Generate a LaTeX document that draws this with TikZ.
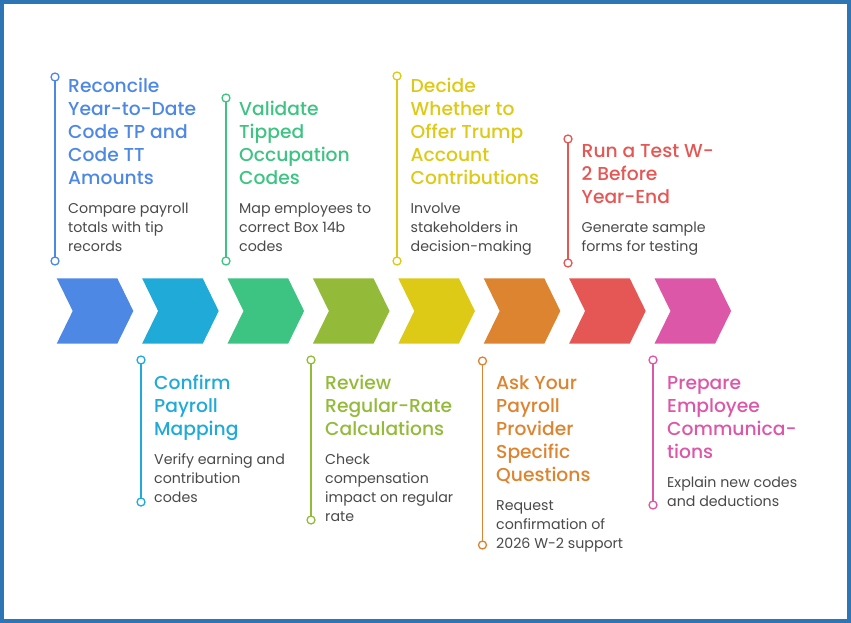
\documentclass[tikz,border=0pt]{standalone}
\usepackage{fontspec}
\setmainfont{Poppins}
\newfontfamily\titlefam{Poppins}[UprightFont=* Medium]
\definecolor{cblue}{HTML}{4E88E5}
\definecolor{ccyan}{HTML}{20AAD8}
\definecolor{cgreen}{HTML}{3DC483}
\definecolor{colive}{HTML}{93BB39}
\definecolor{cyellow}{HTML}{DDCA16}
\definecolor{corange}{HTML}{DD8431}
\definecolor{cred}{HTML}{E55754}
\definecolor{cpink}{HTML}{DC57A8}
\definecolor{cframe}{HTML}{2E75B6}
\definecolor{cbody}{HTML}{4A4A4A}
\tikzset{
  ttl/.style={anchor=base west, inner sep=0pt, align=left, font=\titlefam\fontsize{18.7}{23}\selectfont},
  bodytxt/.style={anchor=base west, inner sep=0pt, align=left, text=cbody, font=\fontsize{14.2}{19}\selectfont},
  stem/.style={line width=1.8pt},
  dot/.style={circle, draw=#1, line width=1.3pt, fill=white, minimum size=8pt, inner sep=0pt},
}
\newcommand{\chev}[3]{% x, colour, name
  \fill[#2] (#1,278.3) -- ++(60.6,0) -- ++(16,32.7) -- ++(-16,32.7) -- ++(-60.6,0) -- ++(16,-32.7) -- cycle;
  \coordinate (#3) at ({#1+38},311);
}
\begin{document}
\begin{tikzpicture}[x=1pt,y=-1pt]
\useasboundingbox (0,0) rectangle (851,623);
\fill[white] (0,0) rectangle (851,623);
\draw[cframe, line width=4pt] (2,2) rectangle (849,621);

% chevrons
\chev{56.7}{cblue}{ch1}
\chev{142.1}{ccyan}{ch2}
\chev{227.5}{cgreen}{ch3}
\chev{312.9}{colive}{ch4}
\chev{398.3}{cyellow}{ch5}
\chev{483.7}{corange}{ch6}
\chev{569.1}{cred}{ch7}
\chev{654.5}{cpink}{ch8}

% (text nodes are anchored at the baseline of their last line)
% ---------- item 1 (top, blue)
\coordinate (t1) at (55,77); \coordinate (b1) at (55,261);
\draw[stem,cblue] (t1) -- (b1);
\node[dot=cblue] (t1d) at (t1) {}; \node[dot=cblue] (b1d) at (b1) {};
\node[ttl,text=cblue] (h1) at (68,184) {Reconcile\\Year-to-Date\\Code TP and\\Code TT\\Amounts};
\node[bodytxt] (d1) at (68,251) {Compare payroll\\totals with tip\\records};

% ---------- item 3 (top, green)
\coordinate (t3) at (226,98); \coordinate (b3) at (226,261);
\draw[stem,cgreen] (t3) -- (b3);
\node[dot=cgreen] (t3d) at (t3) {}; \node[dot=cgreen] (b3d) at (b3) {};
\node[ttl,text=cgreen] (h3) at (239,184) {Validate\\Tipped\\Occupation\\Codes};
\node[bodytxt] (d3) at (239,251) {Map employees to\\correct Box 14b\\codes};

% ---------- item 5 (top, yellow)
\coordinate (t5) at (397,76); \coordinate (b5) at (397,261);
\draw[stem,cyellow] (t5) -- (b5);
\node[dot=cyellow] (t5d) at (t5) {}; \node[dot=cyellow] (b5d) at (b5) {};
\node[ttl,text=cyellow] (h5) at (410.5,184) {Decide\\Whether to\\Offer Trump\\Account\\Contributions};
\node[bodytxt] (d5) at (410.5,251) {Involve\\stakeholders in\\decision-making};

% ---------- item 7 (top, red)
\coordinate (t7) at (568,139); \coordinate (b7) at (568,263);
\draw[stem,cred] (t7) -- (b7);
\node[dot=cred] (t7d) at (t7) {}; \node[dot=cred] (b7d) at (b7) {};
\node[ttl,text=cred] (h7) at (581.5,203) {Run a Test W-\\2 Before\\Year-End};
\node[bodytxt] (d7) at (581.5,251) {Generate sample\\forms for testing};

% ---------- item 2 (bottom, cyan)
\coordinate (t2) at (141,360); \coordinate (b2) at (141,502);
\draw[stem,ccyan] (t2) -- (b2);
\node[dot=ccyan] (t2d) at (t2) {}; \node[dot=ccyan] (b2d) at (b2) {};
\node[ttl,text=ccyan] (h2) at (154,435) {Confirm\\Payroll\\Mapping};
\node[bodytxt] (d2) at (154,502) {Verify earning and\\contribution\\codes};

% ---------- item 4 (bottom, olive)
\coordinate (t4) at (311,360); \coordinate (b4) at (311,520);
\draw[stem,colive] (t4) -- (b4);
\node[dot=colive] (t4d) at (t4) {}; \node[dot=colive] (b4d) at (b4) {};
\node[ttl,text=colive] (h4) at (325,435) {Review\\Regular-Rate\\Calculations};
\node[bodytxt] (d4) at (325,521) {Check\\compensation\\impact on regular\\rate};

% ---------- item 6 (bottom, orange)
\coordinate (t6) at (482.5,361); \coordinate (b6) at (482.5,545);
\draw[stem,corange] (t6) -- (b6);
\node[dot=corange] (t6d) at (t6) {}; \node[dot=corange] (b6d) at (b6) {};
\node[ttl,text=corange] (h6) at (496,481) {Ask Your\\Payroll\\Provider\\Specific\\Questions};
\node[bodytxt] (d6) at (496,548) {Request\\confirmation of\\2026 W-2 support};

% ---------- item 8 (bottom, pink)
\coordinate (t8) at (653,360); \coordinate (b8) at (653,505);
\draw[stem,cpink] (t8) -- (b8);
\node[dot=cpink] (t8d) at (t8) {}; \node[dot=cpink] (b8d) at (b8) {};
\node[ttl,text=cpink] (h8) at (667,458) {Prepare\\Employee\\Communica-\\tions};
\node[bodytxt] (d8) at (667,506) {Explain new codes\\and deductions};
\end{tikzpicture}
\end{document}
